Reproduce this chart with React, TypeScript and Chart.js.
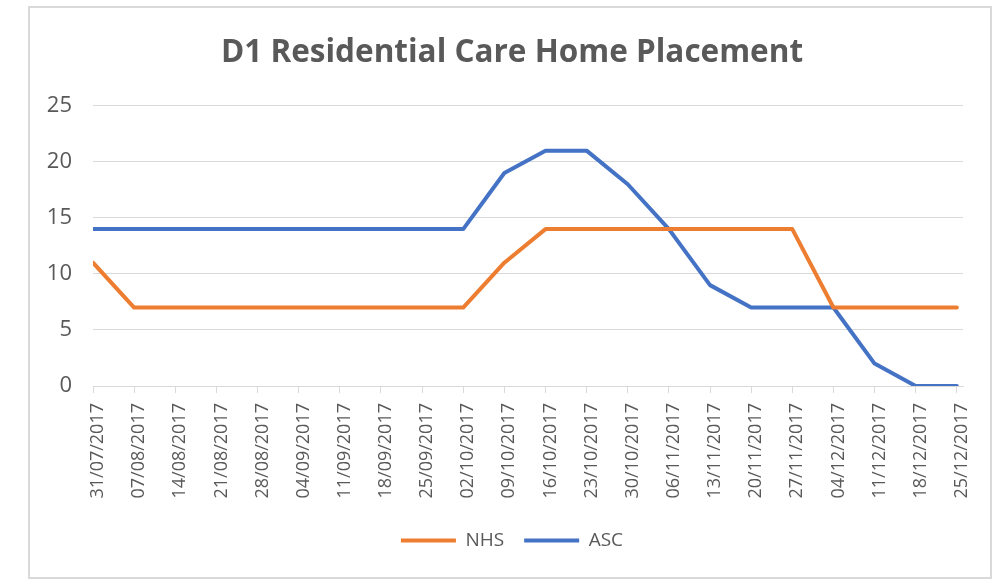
import React, { useEffect, useRef } from "react";
import { Chart, registerables } from "chart.js";

Chart.register(...registerables);

const TITLE = "D1 Residential Care Home Placement";
const DATES = [
  "31/07/2017", "07/08/2017", "14/08/2017", "21/08/2017", "28/08/2017",
  "04/09/2017", "11/09/2017", "18/09/2017", "25/09/2017", "02/10/2017",
  "09/10/2017", "16/10/2017", "23/10/2017", "30/10/2017", "06/11/2017",
  "13/11/2017", "20/11/2017", "27/11/2017", "04/12/2017", "11/12/2017",
  "18/12/2017", "25/12/2017",
];
const NHS = [11, 7, 7, 7, 7, 7, 7, 7, 7, 7, 11, 14, 14, 14, 14, 14, 14, 14, 7, 7, 7, 7];
const ASC = [14, 14, 14, 14, 14, 14, 14, 14, 14, 14, 19, 21, 21, 18, 14, 9, 7, 7, 7, 2, 0, 0];
const Y_TICKS = [0, 5, 10, 15, 20, 25];

const FONT = "'Open Sans', 'Noto Sans', sans-serif";
const TEXT = "#595959";
const GRID = "#d9d9d9";

export default function App() {
  const ref = useRef<HTMLCanvasElement | null>(null);

  useEffect(() => {
    const canvas = ref.current;
    if (!canvas) return;
    const toPts = (arr: number[]) => arr.map((v, i) => ({ x: i, y: v }));
    const chart = new Chart(canvas, {
      type: "line",
      data: {
        datasets: [
          {
            label: "NHS",
            data: toPts(NHS),
            borderColor: "#ED7D31",
            backgroundColor: "#ED7D31",
            borderWidth: 4,
            borderCapStyle: "round",
            borderJoinStyle: "round",
            pointRadius: 0,
            tension: 0,
          },
          {
            label: "ASC",
            data: toPts(ASC),
            borderColor: "#4472C4",
            backgroundColor: "#4472C4",
            borderWidth: 4,
            borderCapStyle: "round",
            borderJoinStyle: "round",
            pointRadius: 0,
            tension: 0,
          },
        ],
      },
      options: {
        responsive: false,
        animation: false,
        layout: { padding: { left: 12, right: 8, top: 0, bottom: 17 } },
        plugins: {
          tooltip: { enabled: false },
          title: {
            display: true,
            text: TITLE,
            color: TEXT,
            font: { family: FONT, size: 31.5, weight: "bold", lineHeight: 1.2 },
            padding: { top: 26, bottom: 34 },
          },
          legend: {
            position: "bottom",
            labels: {
              usePointStyle: true,
              pointStyle: "line",
              pointStyleWidth: 55,
              color: TEXT,
              font: { family: FONT, size: 19 },
              padding: 20,
            },
          },
        },
        scales: {
          x: {
            type: "linear",
            min: 0,
            max: DATES.length - 1 + 0.15,
            afterBuildTicks: (axis: any) => {
              axis.ticks = DATES.map((_, i) => ({ value: i }));
            },
            afterFit: (axis: any) => {
              axis.height = 125;
            },
            ticks: {
              autoSkip: false,
              minRotation: 90,
              maxRotation: 90,
              padding: 10,
              labelOffset: 5,
              color: TEXT,
              font: { family: FONT, size: 18 },
              callback: (v: any) => DATES[v as number] ?? "",
            },
            grid: {
              drawOnChartArea: false,
              drawTicks: true,
              tickLength: 7,
              color: GRID,
              lineWidth: 1,
            },
            border: { display: true, color: GRID, width: 1 },
          },
          y: {
            min: 0,
            max: 25,
            afterBuildTicks: (axis: any) => {
              axis.ticks = Y_TICKS.map((v) => ({ value: v }));
            },
            afterFit: (axis: any) => {
              axis.width = 51;
            },
            ticks: {
              padding: 21,
              color: TEXT,
              font: { family: FONT, size: 22 },
            },
            grid: { color: GRID, lineWidth: 1, drawTicks: false },
            border: { display: false },
          },
          yRight: {
            type: "linear",
            position: "right",
            min: 0,
            max: 25,
            afterFit: (axis: any) => {
              axis.width = 19;
            },
            ticks: { display: false },
            grid: { display: false, drawTicks: false },
            border: { display: false },
          },
        },
      },
    });
    return () => chart.destroy();
  }, []);

  return (
    <div style={{ position: "fixed", left: 0, top: 0, width: 1002, height: 584, background: "#fff" }}>
      <div
        style={{
          position: "absolute",
          left: 28,
          top: 6,
          width: 964,
          height: 573,
          border: "2px solid " + GRID,
          boxSizing: "border-box",
        }}
      />
      <canvas
        ref={ref}
        width={960}
        height={569}
        style={{ position: "absolute", left: 30, top: 8, width: 960, height: 569 }}
      />
    </div>
  );
}
